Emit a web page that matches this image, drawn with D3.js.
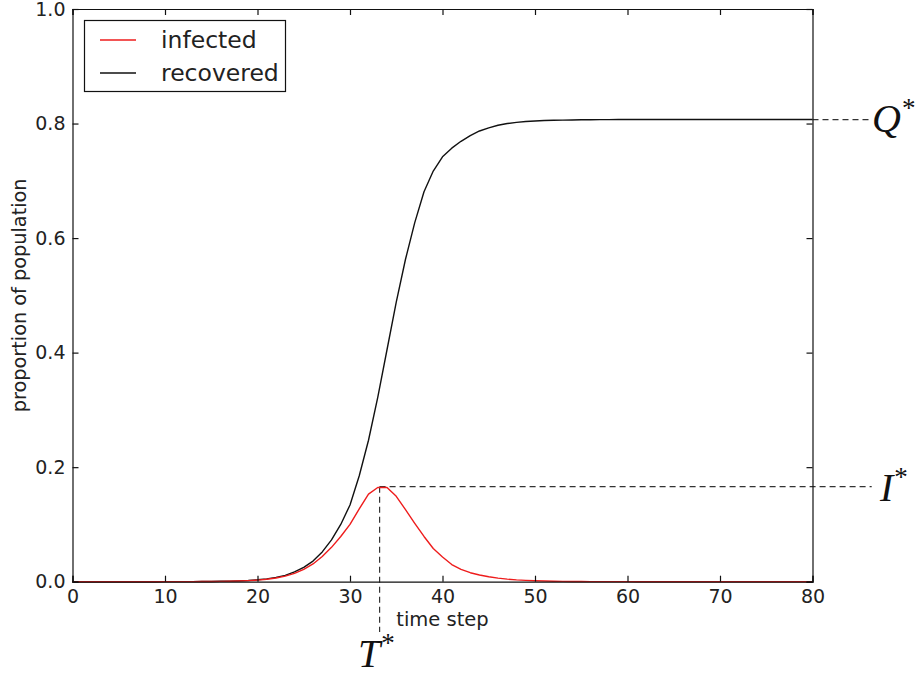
<!DOCTYPE html>
<html>
<head>
<meta charset="utf-8">
<script src="https://cdn.jsdelivr.net/npm/d3@7"></script>
<style>
  body { margin: 0; background: #fff; }
  svg { display: block; }
  text { fill: #222; }
</style>
</head>
<body>
<svg id="chart" width="920" height="675"></svg>
<script>
// ---- data ----
const timeSteps = d3.range(0, 81);
const infected = [
  0.00001, 0.00001, 0.00001, 0.00001, 0.00002, 0.00002, 0.00002, 0.00003, 0.00003, 0.00004,
  0.00005, 0.00007, 0.0001, 0.00016, 0.00024, 0.00036, 0.00055, 0.0008, 0.0012, 0.0019,
  0.0028, 0.0043, 0.0065, 0.0098, 0.0146, 0.0216, 0.031, 0.044, 0.060, 0.079,
  0.100, 0.127, 0.153, 0.1645, 0.1645, 0.149, 0.126, 0.102, 0.079, 0.058,
  0.043, 0.030, 0.0215, 0.0157, 0.0117, 0.0087, 0.0062, 0.0045, 0.0032, 0.0023,
  0.0016, 0.0011, 0.0008, 0.00055, 0.0004, 0.00028, 0.0002, 0.00014, 0.0001, 0.00007,
  0.00005, 0.00004, 0.00003, 0.00002, 0.00002, 0.00001, 0.00001, 0.00001, 0, 0,
  0, 0, 0, 0, 0, 0, 0, 0, 0, 0, 0
];
const recovered = [
  0.00001, 0.00001, 0.00001, 0.00001, 0.00002, 0.00002, 0.00002, 0.00003, 0.00003, 0.00004,
  0.00006, 0.00009, 0.00013, 0.0002, 0.0003, 0.00045, 0.0007, 0.001, 0.0015, 0.0022,
  0.0033, 0.005, 0.0075, 0.011, 0.017, 0.025, 0.036, 0.052, 0.073, 0.100,
  0.134, 0.185, 0.247, 0.322, 0.405, 0.488, 0.563, 0.627, 0.681, 0.717,
  0.742, 0.757, 0.769, 0.779, 0.787, 0.7925, 0.797, 0.800, 0.802, 0.8035,
  0.8045, 0.8052, 0.8057, 0.806, 0.8063, 0.8065, 0.8067, 0.8068, 0.8069, 0.807,
  0.807, 0.807, 0.807, 0.807, 0.807, 0.807, 0.807, 0.807, 0.807, 0.807,
  0.807, 0.807, 0.807, 0.807, 0.807, 0.807, 0.807, 0.807, 0.807, 0.807, 0.807
];
const xTicks = [0, 10, 20, 30, 40, 50, 60, 70, 80];
const yTicks = [0.0, 0.2, 0.4, 0.6, 0.8, 1.0];
const seriesNames = ["infected", "recovered"];
const seriesColors = ["#ee1c1c", "#111111"];
const tStar = 33.2, iStar = 0.166, qStar = 0.807;
const annotationEndT = 86.4, tStarBottom = -0.088;

// ---- layout ----
const SANS = "'DejaVu Sans', sans-serif";
const SERIF = "'Liberation Serif', 'DejaVu Serif', serif";
const svg = d3.select("#chart");
const mLeft = 72.5, mRight = 812.5, mTop = 9, mBottom = 581.7;
const x = d3.scaleLinear().domain([0, 80]).range([mLeft, mRight]);
const y = d3.scaleLinear().domain([0, 1]).range([mBottom, mTop]);

// annotation dashed lines (behind curves)
const dashStyle = g => g.attr("stroke", "#333").attr("stroke-width", 1.2)
  .attr("stroke-dasharray", "6,4").attr("fill", "none");
svg.append("line").call(dashStyle)
  .attr("x1", x(tStar)).attr("x2", x(annotationEndT)).attr("y1", y(iStar)).attr("y2", y(iStar));
svg.append("line").call(dashStyle)
  .attr("x1", x(tStar)).attr("x2", x(tStar)).attr("y1", y(iStar)).attr("y2", y(tStarBottom));
svg.append("line").call(dashStyle)
  .attr("x1", x(80)).attr("x2", x(annotationEndT)).attr("y1", y(qStar)).attr("y2", y(qStar));

// curves
const line = d3.line().x((d, i) => x(timeSteps[i])).y(d => y(d));
[[recovered, 1], [infected, 0]].forEach(([s, idx]) => {
  svg.append("path").datum(s).attr("d", line)
    .attr("fill", "none").attr("stroke", seriesColors[idx])
    .attr("stroke-width", 1.4).attr("stroke-linejoin", "round");
});

// axes (ticks inward on all sides)
const tl = 6;
const axB = svg.append("g").attr("transform", `translate(0,${mBottom})`)
  .call(d3.axisBottom(x).tickValues(xTicks).tickSize(-tl).tickPadding(8).tickFormat(d3.format("d")));
const axT = svg.append("g").attr("transform", `translate(0,${mTop})`)
  .call(d3.axisTop(x).tickValues(xTicks).tickSize(-tl).tickFormat(""));
const axL = svg.append("g").attr("transform", `translate(${mLeft},0)`)
  .call(d3.axisLeft(y).tickValues(yTicks).tickSize(-tl).tickPadding(7).tickFormat(d3.format(".1f")));
const axR = svg.append("g").attr("transform", `translate(${mRight},0)`)
  .call(d3.axisRight(y).tickValues(yTicks).tickSize(-tl).tickFormat(""));
[axB, axT, axL, axR].forEach(a => {
  a.select(".domain").attr("stroke", "#111").attr("stroke-width", 1.2);
  a.selectAll(".tick line").attr("stroke", "#111").attr("stroke-width", 1.2);
  a.selectAll(".tick text").style("font-family", SANS).attr("font-size", 19).attr("fill", "#222");
});

// axis labels
svg.append("text").attr("x", x(40)).attr("y", 626).attr("text-anchor", "middle")
  .style("font-family", SANS).attr("font-size", 19.5).text("time step");
svg.append("text").attr("transform", `translate(26,${(mTop + mBottom) / 2}) rotate(-90)`)
  .attr("text-anchor", "middle").style("font-family", SANS).attr("font-size", 19.3)
  .text("proportion of population");

// math labels
function mathLabel(px, py, letter) {
  const t = svg.append("text").attr("x", px).attr("y", py)
    .style("font-family", SERIF).style("font-style", "italic")
    .attr("font-size", 40).style("fill", "#111");
  t.append("tspan").text(letter);
  t.append("tspan").attr("dy", -15).attr("dx", 1).attr("font-size", 27)
    .style("font-style", "normal").text("*");
}
mathLabel(358, 667, "T");
mathLabel(872, 132, "Q");
mathLabel(880, 501, "I");

// legend
const lg = svg.append("g");
lg.append("rect").attr("x", 84.5).attr("y", 20.5).attr("width", 201).attr("height", 71)
  .attr("fill", "#fff").attr("stroke", "#111").attr("stroke-width", 1.2);
seriesNames.forEach((n, i) => {
  const yy = 40 + i * 33;
  lg.append("line").attr("x1", 100).attr("x2", 136).attr("y1", yy).attr("y2", yy)
    .attr("stroke", seriesColors[i]).attr("stroke-width", 1.4);
  lg.append("text").attr("x", 161).attr("y", yy + 8).style("font-family", SANS)
    .attr("font-size", 23.5).text(n);
});
</script>
</body>
</html>
